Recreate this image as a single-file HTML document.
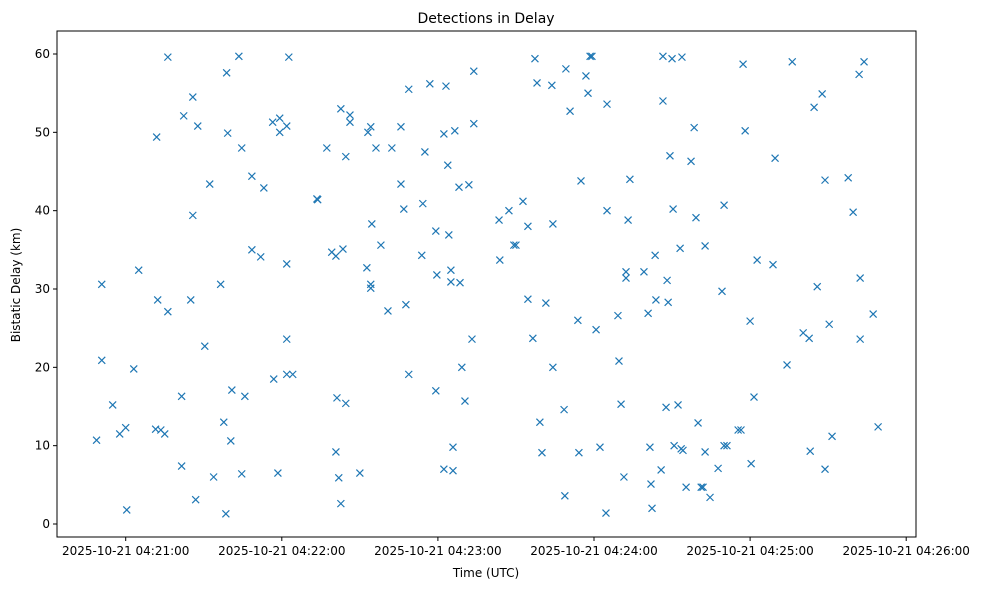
<!DOCTYPE html>
<html><head><meta charset="utf-8"><style>
body{margin:0;background:#fff;}
svg text{font-family:"DejaVu Sans","Liberation Sans",sans-serif;fill:#000;}
</style></head><body>
<svg id="chart" width="988" height="590" xmlns="http://www.w3.org/2000/svg">
<text x="486" y="23" font-size="14" text-anchor="middle">Detections in Delay</text>
<text x="486" y="577" font-size="12" text-anchor="middle">Time (UTC)</text>
<text x="20" y="285" font-size="12" text-anchor="middle" transform="rotate(-90 20 285)">Bistatic Delay (km)</text>
<g id="marks"></g>
<rect x="57" y="31" width="859" height="506" fill="none" stroke="#000" stroke-width="1"/>
<g id="axes"></g>
</svg>
<script>
// seconds after 2025-10-21 04:21:00 UTC
const times=[-11.2,-9.2,-9.2,-5.0,-2.3,0,0.4,3.1,5.0,11.9,12.3,11.5,13.5,15.0,16.2,16.2,21.5,21.5,22.3,25.0,25.8,25.8,26.9,27.7,30.4,32.3,33.8,36.5,37.7,38.5,38.8,39.2,40.8,40.4,43.5,44.6,44.6,45.8,48.5,48.5,51.9,53.1,56.9,56.5,58.5,59.2,59.2,61.9,61.9,61.9,61.9,62.7,64.2,73.5,73.8,77.3,79.2,80.8,81.2,80.8,81.9,82.7,82.7,83.5,84.6,84.6,86.2,86.2,90.0,92.7,93.1,94.2,94.2,94.2,94.6,96.2,98.1,100.8,102.3,105.8,105.8,106.9,107.7,108.8,108.8,113.8,114.2,115.0,116.9,119.2,119.2,119.6,122.3,122.3,123.1,123.8,124.2,125.0,125.0,125.8,125.8,126.5,128.1,128.5,129.2,130.4,131.9,133.1,133.8,133.8,143.5,143.8,147.3,149.2,150.0,152.7,154.6,154.6,156.5,157.3,158.1,159.2,160.0,161.5,163.8,164.2,164.2,168.5,168.8,169.2,170.8,173.8,174.2,175.0,176.9,177.7,178.5,179.2,180.8,182.3,184.6,185.0,185.0,189.2,189.6,190.4,191.5,192.3,192.3,193.1,193.8,199.2,200.8,201.5,201.9,202.3,203.5,203.8,205.8,206.5,206.5,207.7,208.1,208.5,209.2,210.0,210.4,210.8,212.3,213.1,213.5,213.8,214.2,215.4,217.3,218.5,219.2,220.0,221.2,221.9,222.7,222.7,224.6,227.7,229.2,230.0,230.0,231.1,235.4,236.5,237.3,238.1,240.0,240.4,241.5,242.7,248.8,249.6,254.2,256.2,260.4,262.7,263.1,264.6,265.8,267.7,268.8,268.8,270.4,271.5,277.7,279.6,281.9,282.3,282.3,283.8,287.3,289.2];
const delays=[10.7,30.6,20.9,15.2,11.5,12.3,1.8,19.8,32.4,49.4,28.6,12.1,12.0,11.5,59.6,27.1,16.3,7.4,52.1,28.6,54.5,39.4,3.1,50.8,22.7,43.4,6.0,30.6,13.0,1.3,57.6,49.9,17.1,10.6,59.7,48.0,6.4,16.3,44.4,35.0,34.1,42.9,18.5,51.3,6.5,51.8,50.0,33.2,23.6,19.1,50.8,59.6,19.1,41.5,41.4,48.0,34.7,34.2,16.1,9.2,5.9,2.6,53.0,35.1,46.9,15.4,52.2,51.3,6.5,32.7,50.0,50.7,30.6,30.1,38.3,48.0,35.6,27.2,48.0,50.7,43.4,40.2,28.0,19.1,55.5,34.3,40.9,47.5,56.2,37.4,17.0,31.8,49.8,7.0,55.9,45.8,36.9,32.4,30.9,9.8,6.8,50.2,43.0,30.8,20.0,15.7,43.3,23.6,57.8,51.1,38.8,33.7,40.0,35.6,35.6,41.2,28.7,38.0,23.7,59.4,56.3,13.0,9.1,28.2,56.0,20.0,38.3,14.6,3.6,58.1,52.7,26.0,9.1,43.8,57.2,55.0,59.7,59.7,24.8,9.8,1.4,53.6,40.0,26.6,20.8,15.3,6.0,31.4,32.2,38.8,44.0,32.2,26.9,9.8,5.1,2.0,34.3,28.6,6.9,59.7,54.0,14.9,31.1,28.3,47.0,59.4,40.2,10.0,15.2,35.2,9.6,59.6,9.4,4.7,46.3,50.6,39.1,12.9,4.7,4.7,9.2,35.5,3.4,7.1,29.7,10.0,40.7,10.0,12.0,12.0,58.7,50.2,25.9,7.7,16.2,33.7,33.1,46.7,20.3,59.0,24.4,23.7,9.3,53.2,30.3,54.9,43.9,7.0,25.5,11.2,44.2,39.8,57.4,31.4,23.6,59.0,26.8,12.4];
const xTicks=[0,60,120,180,240,300];
const xTickLabels=["2025-10-21 04:21:00","2025-10-21 04:22:00","2025-10-21 04:23:00","2025-10-21 04:24:00","2025-10-21 04:25:00","2025-10-21 04:26:00"];
const yTicks=[0,10,20,30,40,50,60];

const NS="http://www.w3.org/2000/svg";
function xs(t){return 125.7+t*(156.1/60);}
function ys(d){return 524-d*(470/60);}
const marks=document.getElementById('marks');
for(let i=0;i<times.length;i++){
  const x=xs(times[i]),y=ys(delays[i]);
  const p=document.createElementNS(NS,'path');
  p.setAttribute('d',`M${x-3.5},${y-3.5}L${x+3.5},${y+3.5}M${x-3.5},${y+3.5}L${x+3.5},${y-3.5}`);
  p.setAttribute('stroke','#1f77b4');p.setAttribute('stroke-width','1.2');
  
  
  marks.appendChild(p);
}
const axes=document.getElementById('axes');
xTicks.forEach((t,i)=>{
  const x=xs(t);
  const l=document.createElementNS(NS,'line');
  l.setAttribute('x1',x);l.setAttribute('x2',x);l.setAttribute('y1',537);l.setAttribute('y2',541);l.setAttribute('stroke','#000');
  
  
  axes.appendChild(l);
  const tx=document.createElementNS(NS,'text');
  tx.setAttribute('x',x);tx.setAttribute('y',555);tx.setAttribute('font-size','12');tx.setAttribute('text-anchor','middle');
  tx.textContent=xTickLabels[i];
  
  
  axes.appendChild(tx);
});
yTicks.forEach(v=>{
  const y=ys(v);
  const l=document.createElementNS(NS,'line');
  l.setAttribute('x1',53);l.setAttribute('x2',57);l.setAttribute('y1',y);l.setAttribute('y2',y);l.setAttribute('stroke','#000');
  
  
  axes.appendChild(l);
  const tx=document.createElementNS(NS,'text');
  tx.setAttribute('x',50);tx.setAttribute('y',y+4);tx.setAttribute('font-size','12');tx.setAttribute('text-anchor','end');
  tx.textContent=v;
  
  
  axes.appendChild(tx);
});
</script>
</body></html>
